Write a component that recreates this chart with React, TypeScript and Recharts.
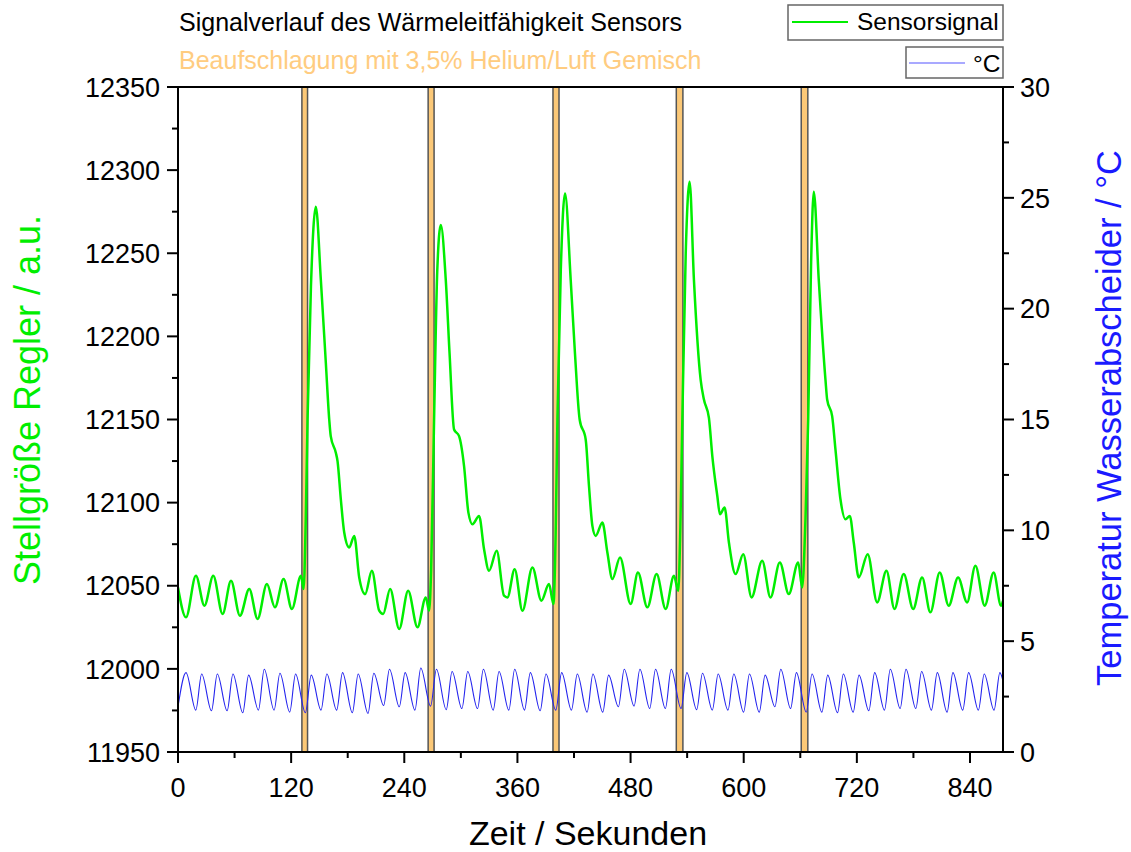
import { LineChart, Line, XAxis, YAxis, ReferenceArea, ReferenceLine } from 'recharts'

// Sensorsignal (Stellgröße Regler, a.u.) über Zeit in s
const greenTime = [
  0, 8.5, 19, 28, 37.4, 47.3, 56.2, 65.7, 75.6, 84.4, 94.3, 102.8, 112, 120.8, 130.4, 133.2,
  135.5, 137.4, 141, 146.2, 151.5, 156.8, 160.4, 162, 167.4, 169.2, 172.7, 176.3, 181.6, 186.9,
  192.2, 198.5, 205.6, 213.4, 217.6, 225, 234.6, 244.1, 254, 262.8, 266.3,
  268.5, 271.6, 275, 278.7, 284, 288, 292.8, 298.1, 303.4, 308, 312.3, 319.3, 324.6, 329.9,
  338, 345.8, 349.4, 357.1, 365.3, 375.9, 385.4, 393.5, 398.2,
  400.5, 402.4, 406, 410.5, 416.5, 421, 426, 432.4, 435.9, 439.5, 443, 450.1, 455.4, 460.7,
  468.8, 480.1, 487.8, 497.8, 507.6, 517.2, 526, 530.6,
  532.8, 534.9, 538.5, 542.6, 547.2, 554.3, 557.8, 563.1, 566.7, 572, 574.8, 579.7, 584.3,
  591.4, 599.5, 608.3, 619.6, 628.4, 638.3, 647.8, 657.8, 662,
  665.5, 668.4, 671.5, 674.3, 679.6, 686.7, 688.5, 693.8, 697.3, 702.6, 707.9, 712.5, 716.7,
  722, 731.5, 741.5, 751.4, 759.9, 769.7, 779.7, 789.2, 798, 807.9, 817.4, 827.4, 836.9,
  845.7, 855.6, 865.1, 872.9, 875,
]
const greenSignal = [
  12049, 12031, 12056, 12038, 12056, 12033, 12053, 12032, 12048, 12030, 12051, 12037, 12054, 12036, 12056, 12048,
  12090, 12150, 12230, 12278, 12234, 12184, 12150, 12140, 12130, 12125, 12102, 12082, 12073, 12080,
  12055, 12045, 12059, 12035, 12033, 12048, 12024, 12047, 12025, 12043, 12035,
  12060, 12150, 12240, 12267, 12234, 12190, 12144, 12140, 12122, 12094, 12087, 12092, 12072, 12059,
  12071, 12044, 12043, 12060, 12035, 12061, 12041, 12051, 12039,
  12080, 12150, 12240, 12286, 12234, 12190, 12150, 12138, 12110, 12086, 12080, 12088, 12070, 12054,
  12067, 12039, 12058, 12037, 12057, 12036, 12056, 12047,
  12085, 12150, 12250, 12293, 12234, 12174, 12162, 12151, 12128, 12104, 12093, 12097, 12076,
  12057, 12069, 12043, 12065, 12043, 12064, 12045, 12064, 12049,
  12090, 12150, 12245, 12287, 12234, 12174, 12162, 12152, 12132, 12102, 12090, 12092, 12076,
  12055, 12069, 12040, 12059, 12036, 12057, 12036, 12055, 12034, 12058, 12038, 12055, 12040,
  12062, 12038, 12058, 12038, 12041,
]

// Temperatur Wasserabscheider in °C (Maxima und Minima)
const blueTime = [
  0, 8.5, 18.9, 25.1, 35.5, 41.7, 52.1, 58.3, 68.7, 74.9, 85.3, 91.5, 101.9, 108.1, 118.5,
  124.7, 135.1, 141.3, 151.7, 157.9, 168.3, 174.5, 184.9, 191.1, 201.5, 207.7, 218.1,
  224.3, 234.7, 240.9, 251.3, 257.5, 267.9, 274.1, 284.5, 290.7, 301.1, 307.3, 317.7,
  323.9, 334.3, 340.5, 350.9, 357.1, 367.5, 373.7, 384.1, 390.3, 400.7, 406.9, 417.3,
  423.5, 433.9, 440.1, 450.5, 456.7, 467.1, 473.3, 483.7, 489.9, 500.3, 506.5, 516.9,
  523.1, 533.5, 539.7, 550.1, 556.3, 566.7, 572.9, 583.3, 589.5, 599.9, 606.1, 616.5,
  622.7, 633.1, 639.3, 649.7, 655.9, 666.3, 672.5, 682.9, 689.1, 699.5, 705.7, 716.1,
  722.3, 732.7, 738.9, 749.3, 755.5, 765.9, 772.1, 782.5, 788.7, 799.1, 805.3, 815.7,
  821.9, 832.3, 838.5, 848.9, 855.1, 865.5, 871.7, 875,
]
const blueTemp = [
  2.04, 3.58, 1.89, 3.52, 1.86, 3.52, 1.86, 3.52, 1.77, 3.47, 1.89, 3.73, 1.89, 3.55, 1.8,
  3.52, 1.77, 3.47, 1.89, 3.52, 1.89, 3.58, 1.77, 3.52, 1.74, 3.55, 2.1,
  3.73, 2.04, 3.58, 1.89, 3.79, 2.07, 3.73, 1.91, 3.63, 1.96, 3.63, 1.96,
  3.73, 1.89, 3.63, 1.89, 3.73, 1.89, 3.58, 1.86, 3.52, 1.89, 3.58, 1.89,
  3.52, 1.8, 3.52, 1.8, 3.47, 2.04, 3.73, 2.07, 3.73, 1.96, 3.73, 1.96,
  3.73, 1.96, 3.58, 1.91, 3.55, 1.89, 3.52, 1.89, 3.52, 1.8, 3.52, 1.8,
  3.47, 2.04, 3.73, 1.96, 3.58, 1.8, 3.52, 1.8, 3.47, 1.77, 3.52, 1.8,
  3.47, 1.86, 3.58, 1.89, 3.73, 1.96, 3.73, 1.96, 3.63, 1.89, 3.58, 1.8,
  3.58, 1.89, 3.58, 1.89, 3.52, 1.89, 3.58, 3.2,
]

// Beaufschlagung mit Helium/Luft (Start/Ende in s)
const gasStart = [131.4, 265.3, 397.7, 528.5, 661]
const gasEnd = [137.4, 271.6, 404.1, 535.5, 668]

const xTicks = [0, 60, 120, 180, 240, 300, 360, 420, 480, 540, 600, 660, 720, 780, 840]
const xLabels = [0, 120, 240, 360, 480, 600, 720, 840]
const leftTicks = [11950, 11975, 12000, 12025, 12050, 12075, 12100, 12125, 12150, 12175, 12200, 12225, 12250, 12275, 12300, 12325, 12350]
const leftLabels = [11950, 12000, 12050, 12100, 12150, 12200, 12250, 12300, 12350]
const rightTicks = [0, 2.5, 5, 7.5, 10, 12.5, 15, 17.5, 20, 22.5, 25, 27.5, 30]
const rightLabels = [0, 5, 10, 15, 20, 25, 30]

const sensorData = greenTime.map((t, i) => ({ t, v: greenSignal[i] }))
const tempData = blueTime.map((t, i) => ({ t, v: blueTemp[i] }))

const FONT = 'Arial, "Liberation Sans", Helvetica, sans-serif'
const GREEN = '#00ee00'
const BLUE = '#2424ee'

const XTick = ({ x, y, payload }: any) => {
  const major = xLabels.includes(payload.value)
  return (
    <g>
      <line x1={x} x2={x} y1={y} y2={y + (major ? 11 : 6)} stroke="#000" strokeWidth={2} />
      {major && (
        <text x={x} y={y + 45} textAnchor="middle" fontSize={27} fontFamily={FONT} fill="#000">
          {payload.value}
        </text>
      )}
    </g>
  )
}

const LeftTick = ({ x, y, payload }: any) => {
  const major = leftLabels.includes(payload.value)
  return (
    <g>
      <line x1={x - (major ? 11 : 6)} x2={x} y1={y} y2={y} stroke="#000" strokeWidth={2} />
      {major && (
        <text x={x - 18} y={y} dy="0.36em" textAnchor="end" fontSize={27} fontFamily={FONT} fill="#000">
          {payload.value}
        </text>
      )}
    </g>
  )
}

const RightTick = ({ x, y, payload }: any) => {
  const major = rightLabels.includes(payload.value)
  return (
    <g>
      <line x1={x} x2={x + (major ? 11 : 6)} y1={y} y2={y} stroke="#000" strokeWidth={2} />
      {major && (
        <text x={x + 17} y={y} dy="0.36em" textAnchor="start" fontSize={27} fontFamily={FONT} fill="#000">
          {payload.value}
        </text>
      )}
    </g>
  )
}

export default function App() {
  return (
    <div style={{ position: 'absolute', left: 0, top: 0, width: 1131, height: 852, background: '#fff' }}>
      <LineChart width={1131} height={852} margin={{ top: 87, right: 0, bottom: 0, left: 0 }}>
        <XAxis
          dataKey="t"
          type="number"
          domain={[0, 875]}
          ticks={xTicks}
          interval={0}
          allowDataOverflow
          height={100}
          tickSize={0}
          tickMargin={0}
          tickLine={false}
          axisLine={{ stroke: '#000', strokeWidth: 2 }}
          tick={<XTick />}
        />
        <YAxis
          yAxisId="left"
          type="number"
          domain={[11950, 12350]}
          ticks={leftTicks}
          interval={0}
          allowDataOverflow
          width={178}
          tickSize={0}
          tickMargin={0}
          tickLine={false}
          axisLine={{ stroke: '#000', strokeWidth: 2 }}
          tick={<LeftTick />}
        />
        <YAxis
          yAxisId="right"
          orientation="right"
          type="number"
          domain={[0, 30]}
          ticks={rightTicks}
          interval={0}
          allowDataOverflow
          width={128}
          tickSize={0}
          tickMargin={0}
          tickLine={false}
          axisLine={{ stroke: '#000', strokeWidth: 2 }}
          tick={<RightTick />}
        />
        {gasStart.map((s, i) => (
          <ReferenceArea
            key={i}
            yAxisId="left"
            x1={s}
            x2={gasEnd[i]}
            y1={11950}
            y2={12350}
            fill="#fbc877"
            fillOpacity={1}
            stroke="#555"
            strokeWidth={1.5}
          />
        ))}
        <ReferenceLine yAxisId="left" y={12350} stroke="#000" strokeWidth={2} />
        <Line
          yAxisId="right"
          data={tempData}
          dataKey="v"
          type="monotone"
          stroke={BLUE}
          strokeWidth={1.1}
          dot={false}
          isAnimationActive={false}
        />
        <Line
          yAxisId="left"
          data={sensorData}
          dataKey="v"
          type="monotone"
          stroke={GREEN}
          strokeWidth={2.5}
          dot={false}
          isAnimationActive={false}
        />
      </LineChart>

      <svg width={1131} height={852} style={{ position: 'absolute', left: 0, top: 0, pointerEvents: 'none' }}>
        <text x={179} y={31} fontSize={25} fontFamily={FONT} fill="#000">
          Signalverlauf des Wärmeleitfähigkeit Sensors
        </text>
        <text x={179} y={69} fontSize={25} fontFamily={FONT} fill="#ffcc80">
          Beaufschlagung mit 3,5% Helium/Luft Gemisch
        </text>

        <rect x={788} y={5} width={215} height={35} fill="#fff" stroke="#666" strokeWidth={1.5} />
        <line x1={792} x2={848} y1={22} y2={22} stroke={GREEN} strokeWidth={2} />
        <text x={857} y={30} fontSize={24.5} fontFamily={FONT} fill="#000">Sensorsignal</text>

        <rect x={906} y={47} width={97} height={31} fill="#fff" stroke="#666" strokeWidth={1.5} />
        <line x1={909} x2={965} y1={63} y2={63} stroke="#8c8cff" strokeWidth={1.5} />
        <text x={973} y={72} fontSize={24.5} fontFamily={FONT} fill="#000">°C</text>

        <text
          transform="translate(40, 400) rotate(-90)"
          textAnchor="middle"
          fontSize={36}
          fontFamily={FONT}
          fill={GREEN}
        >
          Stellgröße Regler / a.u.
        </text>
        <text
          transform="translate(1121, 418) rotate(-90)"
          textAnchor="middle"
          fontSize={34.5}
          fontFamily={FONT}
          fill="#1a1aff"
        >
          Temperatur Wasserabscheider / °C
        </text>
        <text x={588} y={845} textAnchor="middle" fontSize={34} fontFamily={FONT} fill="#000">
          Zeit / Sekunden
        </text>
      </svg>
    </div>
  )
}
